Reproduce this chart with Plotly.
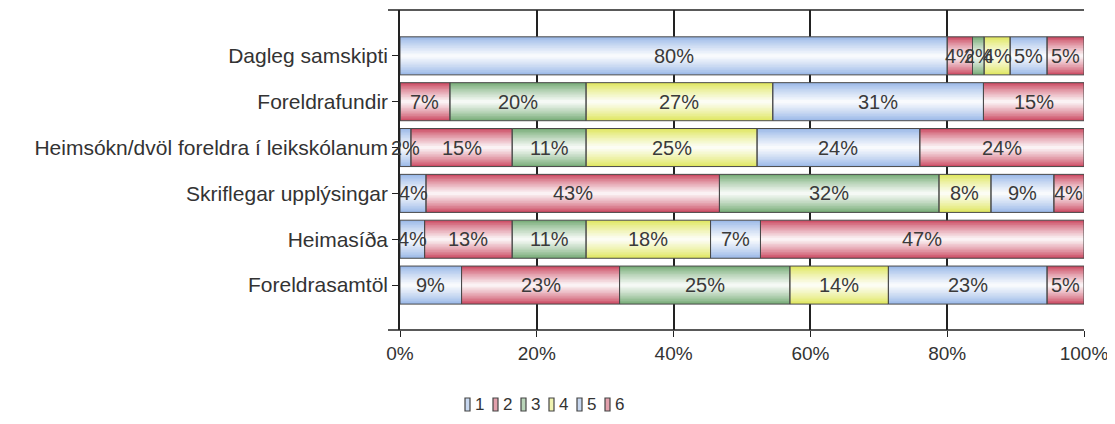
import plotly.graph_objects as go

categories = [
    "Dagleg samskipti",
    "Foreldrafundir",
    "Heimsókn/dvöl foreldra í leikskólanum",
    "Skriflegar upplýsingar",
    "Heimasíða",
    "Foreldrasamtöl",
]
series_names = ["1", "2", "3", "4", "5", "6"]
s1 = [80.0, 0.0, 1.6, 3.8, 3.6, 9.0]
s2 = [3.7, 7.3, 14.8, 42.9, 12.8, 23.1]
s3 = [1.7, 19.9, 10.8, 32.1, 10.8, 24.9]
s4 = [3.8, 27.3, 25.0, 7.6, 18.2, 14.4]
s5 = [5.4, 30.8, 23.8, 9.2, 7.3, 23.2]
s6 = [5.4, 14.7, 24.0, 4.4, 47.3, 5.4]
series_values = [s1, s2, s3, s4, s5, s6]
x_ticks = [0, 20, 40, 60, 80, 100]
x_tick_labels = ["0%", "20%", "40%", "60%", "80%", "100%"]

edge_colors = ["#9bb9e8", "#cc4c64", "#78ad78", "#e0e760", "#9bb9e8", "#cc4c64"]
legend_fill = ["#c8d8f0", "#e2a0ac", "#b8d4b8", "#f0f3b0", "#c8d8f0", "#e2a0ac"]
FONT = "Liberation Sans, Arial, sans-serif"
BAR_W = 0.83
N_LAYERS = 12
layer_fracs = [1.0 - k / N_LAYERS for k in range(N_LAYERS)]
layer_mix = [0.93 * (k / (N_LAYERS - 1)) ** 0.85 for k in range(N_LAYERS)]


def hex_to_rgb(h):
    h = h.lstrip("#")
    return tuple(int(h[i:i + 2], 16) for i in (0, 2, 4))


def mix_white(h, t):
    r, g, b = hex_to_rgb(h)
    return "rgb(%d,%d,%d)" % (r + (255 - r) * t, g + (255 - g) * t, b + (255 - b) * t)


n = len(categories)
bases = []
cum = [0.0] * n
for vals in series_values:
    bases.append(list(cum))
    cum = [c + v for c, v in zip(cum, vals)]

fig = go.Figure()
for name, vals, base, col in zip(series_names, series_values, bases, edge_colors):
    for frac, t in zip(layer_fracs, layer_mix):
        fig.add_trace(go.Bar(
            y=categories, x=vals, base=base, orientation="h",
            width=BAR_W * frac, name=name, showlegend=False,
            marker=dict(color=mix_white(col, t), line=dict(width=0)),
            textposition="none", hoverinfo="skip",
        ))
for name, vals, base in zip(series_names, series_values, bases):
    fig.add_trace(go.Bar(
        y=categories, x=vals, base=base, orientation="h",
        width=BAR_W, name=name, showlegend=False,
        marker=dict(color="rgba(0,0,0,0)", line=dict(color="#4a4a4a", width=1)),
        textposition="none", hoverinfo="x+y+name",
    ))

annotations = []
for j, cat in enumerate(categories):
    for vals, base in zip(series_values, bases):
        v = vals[j]
        if v > 0:
            annotations.append(dict(
                x=base[j] + v / 2, y=cat, xref="x", yref="y",
                text=f"{round(v)}%", showarrow=False,
                font=dict(family=FONT, size=20, color="#3a3a3a"),
            ))


def px_x(X):
    return (X - 400) / 684.0


def px_y(Y):
    return (330 - Y) / 320.0


shapes = [
    dict(type="line", xref="paper", yref="paper", x0=px_x(388), x1=1, y0=1, y1=1,
         line=dict(color="#222222", width=1.5), layer="below"),
    dict(type="line", xref="paper", yref="paper", x0=px_x(388), x1=1, y0=0, y1=0,
         line=dict(color="#222222", width=1.5), layer="below"),
]
for i, name in enumerate(series_names):
    x0 = 465 + 28 * i
    shapes.append(dict(type="rect", xref="paper", yref="paper",
                       x0=px_x(x0), x1=px_x(x0 + 5), y0=px_y(411), y1=px_y(398),
                       fillcolor=legend_fill[i], line=dict(color="#444444", width=1.2)))
    annotations.append(dict(x=px_x(x0 + 8), y=px_y(404), xref="paper", yref="paper",
                            xanchor="left", yanchor="middle", text=name, showarrow=False,
                            font=dict(family=FONT, size=17, color="#333333")))

fig.update_layout(
    width=1107, height=416,
    margin=dict(l=392, r=31, t=2, b=94),
    paper_bgcolor="white", plot_bgcolor="white",
    barmode="overlay",
    showlegend=False,
    font=dict(family=FONT, size=19, color="#333333"),
    annotations=annotations,
    shapes=shapes,
    xaxis=dict(range=[0, 100], tickvals=x_ticks, ticktext=x_tick_labels,
               showgrid=True, gridcolor="#222222", gridwidth=1.5,
               ticks="outside", ticklen=6, tickcolor="#222222",
               showline=False, zeroline=False, automargin=False,
               tickfont=dict(size=19, color="#333333")),
    yaxis=dict(type="category", categoryorder="array", categoryarray=categories,
               range=[5.98, -1.0], showline=True, linecolor="#222222", linewidth=1.5,
               ticks="outside", ticklen=6, tickcolor="#222222", automargin=False,
               tickfont=dict(size=21, color="#333333"), showgrid=False),
)

fig.write_html("out.html")
